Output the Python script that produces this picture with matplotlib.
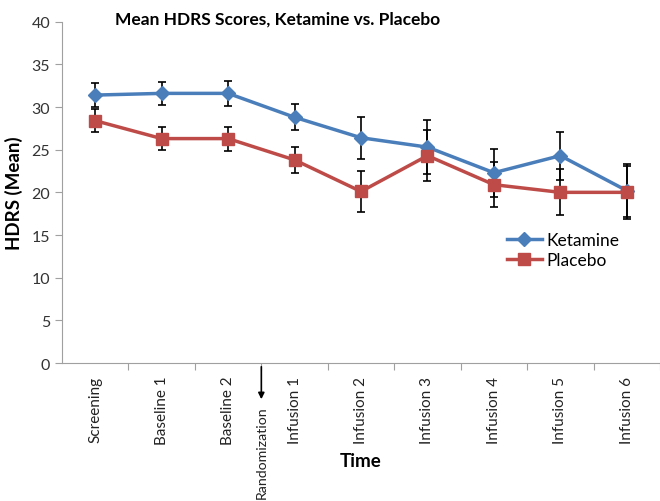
import matplotlib
matplotlib.use("Agg")
import matplotlib.pyplot as plt
from matplotlib.lines import Line2D

plt.rcParams['font.family'] = ['Lato', 'DejaVu Sans']

categories = ["Screening", "Baseline 1", "Baseline 2", "Infusion 1", "Infusion 2",
              "Infusion 3", "Infusion 4", "Infusion 5", "Infusion 6"]
ketamine = [31.4, 31.6, 31.6, 28.8, 26.4, 25.3, 22.3, 24.3, 20.2]
ketamine_err = [1.4, 1.35, 1.5, 1.5, 2.45, 3.2, 2.8, 2.8, 3.1]
placebo = [28.4, 26.3, 26.3, 23.8, 20.1, 24.3, 20.9, 20.0, 20.0]
placebo_err = [1.35, 1.35, 1.4, 1.5, 2.4, 3.0, 2.65, 2.7, 3.1]
yticks = [0, 5, 10, 15, 20, 25, 30, 35, 40]

blue = "#4A7EBB"
red = "#BE4B48"

fig = plt.figure(figsize=(6.6, 5.02), dpi=100)
ax = fig.add_axes([62/660, 1-364/502, 1-62/660, (364-22.7)/502])

x = list(range(len(categories)))
ax.errorbar(x, ketamine, yerr=ketamine_err, color=blue, lw=2.5, marker='D', ms=7,
            ecolor='black', elinewidth=1.2, capsize=3, capthick=1.2, zorder=3)
ax.errorbar(x, placebo, yerr=placebo_err, color=red, lw=2.5, marker='s', ms=9,
            ecolor='black', elinewidth=1.2, capsize=3, capthick=1.2, zorder=3)

ax.set_ylim(0, 40)
ax.set_yticks(yticks)
ax.set_xlim(-0.5, -0.5 + 598/67)
ax.set_xticks([i + 0.5 for i in range(len(categories))])
ax.set_xticklabels([])
ax.set_xticks(x, minor=True)
ax.set_xticklabels(categories, minor=True, rotation=90, fontsize=11, color='#222222')
ax.tick_params(axis='x', which='minor', length=0, pad=9)
ax.tick_params(axis='x', which='major', length=5, color='#A0A0A0')
ax.tick_params(axis='y', length=5, color='#A0A0A0', labelsize=11.5, labelcolor='#333333')

for s in ['top', 'right']:
    ax.spines[s].set_visible(False)
for s in ['left', 'bottom']:
    ax.spines[s].set_color('#A0A0A0')

ax.set_ylabel("HDRS (Mean)", fontsize=13.5, fontweight='bold', labelpad=6)
ax.set_xlabel("Time", fontsize=13.5, fontweight='bold', labelpad=6)
fig.text(278/660, 1-20/502, "Mean HDRS Scores, Ketamine vs. Placebo", fontsize=12.5,
         fontweight='bold', ha='center', va='center')

tr = ax.get_xaxis_transform()
ax.annotate('', xy=(2.5, (364-403)/341.3), xytext=(2.5, (364-365)/341.3),
            xycoords=tr, textcoords=tr,
            arrowprops=dict(arrowstyle='-|>', color='black', lw=1.2, mutation_scale=9),
            annotation_clip=False)
ax.text(2.5, (364-406)/341.3, "Randomization", transform=tr, rotation=90,
        ha='center', va='top', fontsize=10.2, color='#222222')

handles = [Line2D([], [], color=blue, lw=2.5, marker='D', ms=7),
           Line2D([], [], color=red, lw=2.5, marker='s', ms=9)]
ax.legend(handles, ['Ketamine', 'Placebo'], loc='upper left',
          bbox_to_anchor=(500/660, 1-226/502),
          bbox_transform=fig.transFigure, frameon=False, fontsize=12.5,
          handlelength=2.0, handletextpad=0.3, labelspacing=0.25, borderaxespad=0)

fig.savefig("out.png", dpi=100)
